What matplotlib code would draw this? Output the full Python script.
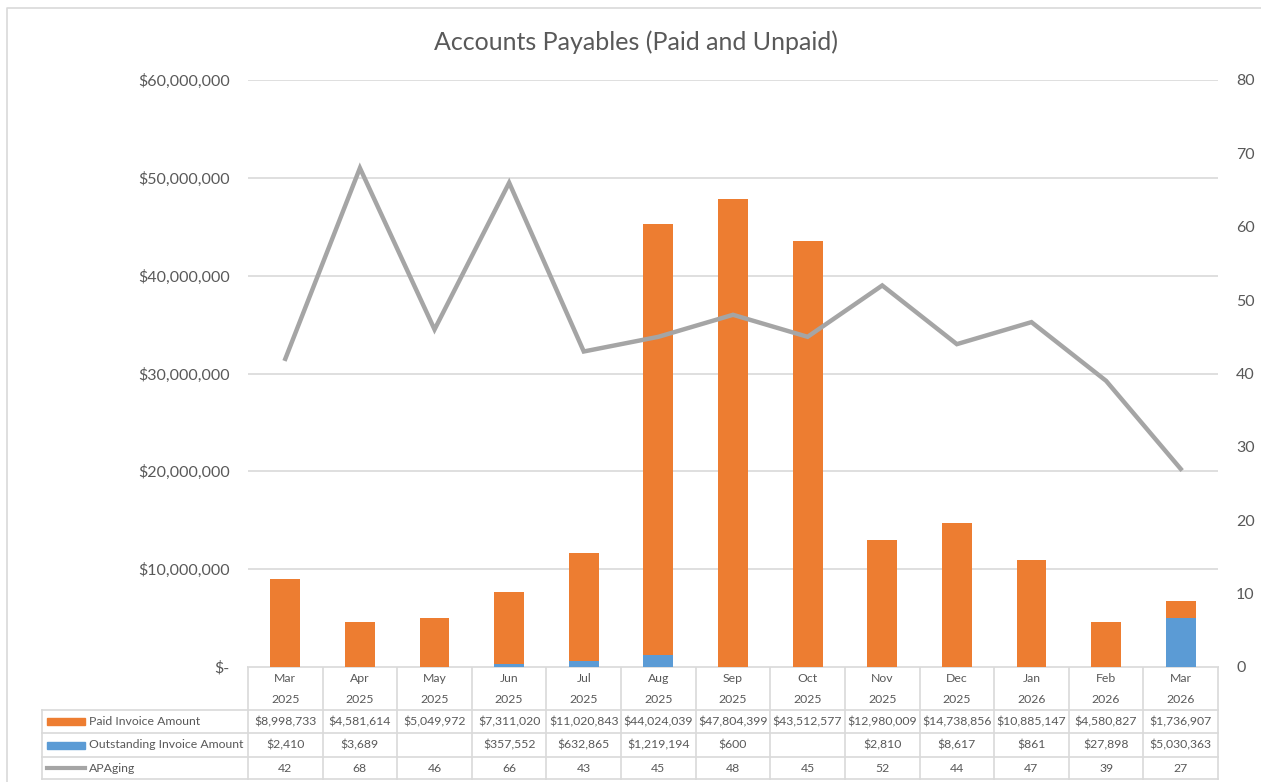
import numpy as np
import matplotlib
matplotlib.use("Agg")
from matplotlib import pyplot as plt
from matplotlib.ticker import FuncFormatter

plt.rcParams['font.family'] = ['Lato', 'DejaVu Sans']

months = ['Mar', 'Apr', 'May', 'Jun', 'Jul', 'Aug', 'Sep', 'Oct', 'Nov', 'Dec', 'Jan', 'Feb', 'Mar']
years = ['2025'] * 10 + ['2026'] * 3
paid = [8998733, 4581614, 5049972, 7311020, 11020843, 44024039, 47804399,
        43512577, 12980009, 14738856, 10885147, 4580827, 1736907]
outstanding = [2410, 3689, np.nan, 357552, 632865, 1219194, 600,
               np.nan, 2810, 8617, 861, 27898, 5030363]
aging = [42, 68, 46, 66, 43, 45, 48, 45, 52, 44, 47, 39, 27]

ORANGE = '#ED7D31'
BLUE = '#5B9BD5'
GRAY = '#A5A5A5'
TXT = '#595959'
GRID = '#D9D9D9'

W, H = 1261, 782
fig = plt.figure(figsize=(W / 100, H / 100), dpi=100)

# pixel layout
px_left, px_right = 248, 1218
px_top, px_zero = 80, 667
row_edges = [667, 710, 733, 757, 779]
lab_left = 42

# background axes in pixel units for border and data table
bg = fig.add_axes([0, 0, 1, 1])
bg.set_xlim(0, W)
bg.set_ylim(H, 0)
bg.axis('off')
bg.plot([7, 7, W + 5], [H + 5, 8, 8], color=GRID, lw=1.2)

ax = fig.add_axes([px_left / W, 1 - px_zero / H,
                   (px_right - px_left) / W, (px_zero - px_top) / H])
n = len(months)
x = np.arange(n)
out0 = np.nan_to_num(outstanding)
ax.bar(x, out0, width=0.4, color=BLUE, zorder=3)
ax.bar(x, paid, width=0.4, bottom=out0, color=ORANGE, zorder=3)
ax.set_xlim(-0.5, n - 0.5)
ax.set_ylim(0, 60000000)
ax.set_yticks(np.arange(0, 60000001, 10000000))
ax.yaxis.set_major_formatter(FuncFormatter(lambda v, p: '$-' if v == 0 else '${:,.0f}'.format(v)))
ax.grid(axis='y', color=GRID, lw=1.2, zorder=0)
ax.set_xticks([])
for s in ax.spines.values():
    s.set_visible(False)
ax.tick_params(axis='y', length=0, labelsize=11.5, labelcolor=TXT, pad=13)

ax2 = ax.twinx()
ax2.plot(x, aging, color=GRAY, lw=3.2, zorder=4, solid_joinstyle='miter')
ax2.set_ylim(0, 80)
ax2.set_yticks(range(0, 81, 10))
for s in ax2.spines.values():
    s.set_visible(False)
ax2.tick_params(axis='y', length=0, labelsize=11.5, labelcolor=TXT, pad=13)

fig.text(0.5 * (433 + 838) / W, 1 - 42 / H, 'Accounts Payables (Paid and Unpaid)',
         ha='center', va='center', fontsize=18, color=TXT)

# data table
colw = (px_right - px_left) / n
bg.plot([px_left, px_right], [row_edges[0]] * 2, color=GRID, lw=1.2)
for r in row_edges[1:]:
    bg.plot([lab_left, px_right], [r, r], color=GRID, lw=1.2)
for i in range(n + 1):
    xe = px_left + i * colw
    bg.plot([xe, xe], [row_edges[0], row_edges[-1]], color=GRID, lw=1.2)
bg.plot([lab_left, lab_left], [row_edges[1], row_edges[-1]], color=GRID, lw=1.2)

fs = 8.8
hy1 = row_edges[0] + 0.27 * (row_edges[1] - row_edges[0])
hy2 = row_edges[0] + 0.76 * (row_edges[1] - row_edges[0])
for i in range(n):
    cx = px_left + (i + 0.5) * colw
    bg.text(cx, hy1, months[i], ha='center', va='center', fontsize=fs, color=TXT)
    bg.text(cx, hy2, years[i], ha='center', va='center', fontsize=fs, color=TXT)
    rows = ['${:,.0f}'.format(paid[i]),
            '' if np.isnan(outstanding[i]) else '${:,.0f}'.format(outstanding[i]),
            str(aging[i])]
    for j, t in enumerate(rows):
        cy = 0.5 * (row_edges[j + 1] + row_edges[j + 2])
        bg.text(cx, cy, t, ha='center', va='center', fontsize=fs, color=TXT)

labels = ['Paid Invoice Amount', 'Outstanding Invoice Amount', 'APAging']
keys = [ORANGE, BLUE, GRAY]
for j, (lab, c) in enumerate(zip(labels, keys)):
    cy = 0.5 * (row_edges[j + 1] + row_edges[j + 2])
    if j < 2:
        bg.add_patch(plt.Rectangle((47, cy - 3.5), 38, 7, color=c))
    else:
        bg.plot([47, 85], [cy, cy], color=c, lw=3)
    bg.text(89, cy, lab, ha='left', va='center', fontsize=fs, color=TXT)

fig.savefig('out.png', dpi=100)
